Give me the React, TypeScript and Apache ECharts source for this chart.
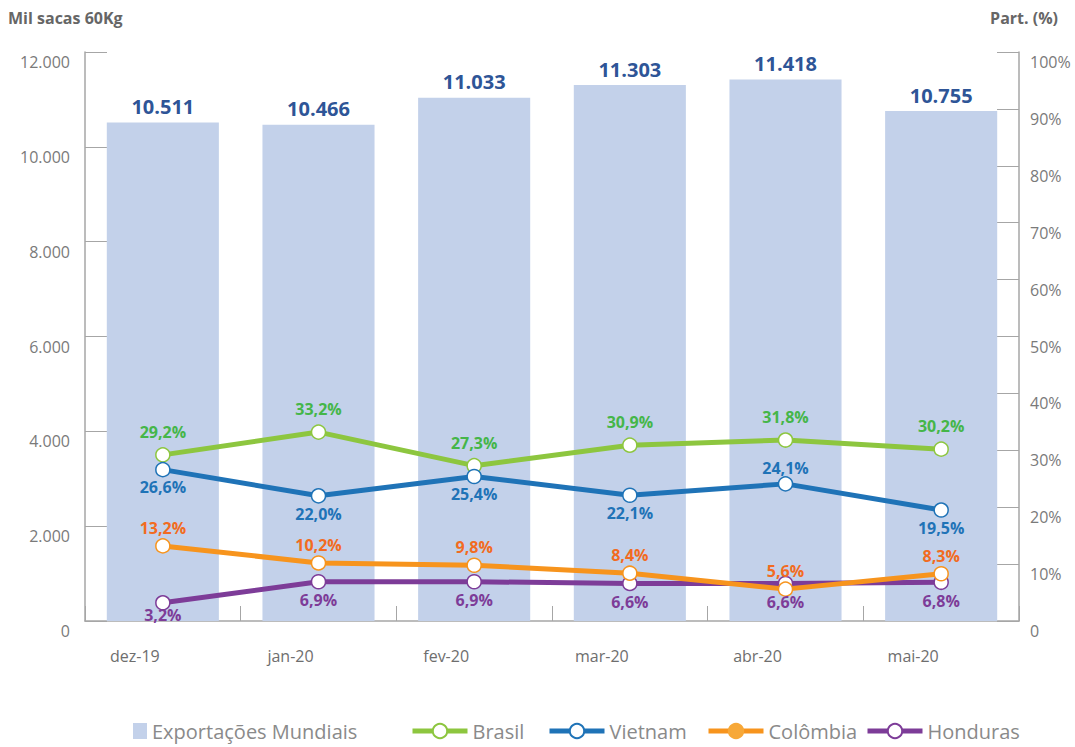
import React, { useEffect, useRef } from "react";
import * as echarts from "echarts";

const categories = ["dez-19", "jan-20", "fev-20", "mar-20", "abr-20", "mai-20"];
const exportacoes = [10511, 10466, 11033, 11303, 11418, 10755];
const brasil = [29.2, 33.2, 27.3, 30.9, 31.8, 30.2];
const vietnam = [26.6, 22.0, 25.4, 22.1, 24.1, 19.5];
const colombia = [13.2, 10.2, 9.8, 8.4, 5.6, 8.3];
const honduras = [3.2, 6.9, 6.9, 6.6, 6.6, 6.8];
const vietnamLabelPos = ["bottom", "bottom", "bottom", "bottom", "top", "bottom"];

const FONT = "Open Sans";

const fmtThousands = (v: number) =>
  String(Math.round(v)).replace(/\B(?=(\d{3})+(?!\d))/g, ".");
const fmtPct = (v: number) => v.toFixed(1).replace(".", ",") + "%";

function lineSeries(name: string, data: any[], lineColor: string, labelColor: string, pos: string, dist: number) {
  return {
    name,
    type: "line",
    yAxisIndex: 1,
    data,
    symbol: "circle",
    symbolSize: 14,
    lineStyle: { color: lineColor, width: 5 },
    itemStyle: { color: "#ffffff", borderColor: lineColor, borderWidth: 1.5 },
    label: {
      show: true,
      position: pos,
      distance: dist,
      color: labelColor,
      fontFamily: FONT,
      fontWeight: "bold",
      fontSize: 16,
      formatter: (p: any) => fmtPct(p.value),
    },
    emphasis: { disabled: true },
  };
}

export default function App() {
  const ref = useRef<HTMLDivElement>(null);
  useEffect(() => {
    const chart = echarts.init(ref.current!, null, { renderer: "svg" });
    const axisGrey = "#a6a6a6";
    const legendTop = 716;
    const legendText = { color: "#8a8a8a", fontSize: 20, fontFamily: FONT };
    const lineLegend = (name: string, left: number, extra: any = {}) => ({
      left: left - 5,
      top: legendTop,
      itemWidth: 55,
      itemHeight: 18,
      textStyle: legendText,
      lineStyle: { width: 5 },
      data: [{ name, ...extra }],
      selectedMode: false,
    });
    chart.setOption({
      animation: false,
      textStyle: { fontFamily: FONT },
      grid: { left: 85, right: 56, top: 52, bottom: 126 },
      graphic: [
        {
          type: "text",
          left: 8,
          top: 10,
          style: { text: "Mil sacas 60Kg", fontFamily: FONT, fontWeight: "bold", fontSize: 16, fill: "#666666" },
        },
        {
          type: "text",
          right: 17,
          top: 10,
          style: { text: "Part. (%)", fontFamily: FONT, fontWeight: "bold", fontSize: 16, fill: "#666666" },
        },
      ],
      legend: [
        {
          left: 128,
          top: legendTop,
          itemWidth: 14,
          itemHeight: 16,
          textStyle: legendText,
          data: [{ name: "Exportações Mundiais", icon: "rect" }],
          selectedMode: false,
        },
        lineLegend("Brasil", 410),
        lineLegend("Vietnam", 547),
        lineLegend("Colômbia", 706, { itemStyle: { color: "#f7a838", borderColor: "#f7a838" } }),
        lineLegend("Honduras", 865),
      ],
      xAxis: {
        type: "category",
        data: categories,
        axisLine: { lineStyle: { color: axisGrey, width: 1.5 } },
        axisTick: { show: true, inside: true, length: 15, lineStyle: { color: axisGrey } },
        axisLabel: {
          color: "#6e6e6e",
          fontSize: 16,
          fontFamily: FONT,
          margin: 27,
          padding: [0, 56, 0, 0],
        },
      },
      yAxis: [
        {
          type: "value",
          min: 0,
          max: 12000,
          interval: 2000,
          axisLine: { show: true, lineStyle: { color: axisGrey, width: 1.5 } },
          axisTick: { show: true, inside: true, length: 22, lineStyle: { color: axisGrey } },
          splitLine: { show: false },
          axisLabel: {
            color: "#7a7a7a",
            fontSize: 16,
            fontFamily: FONT,
            margin: 15,
            verticalAlign: "top",
            lineHeight: 20,
            formatter: (v: number) => fmtThousands(v),
          },
        },
        {
          type: "value",
          min: 0,
          max: 100,
          interval: 10,
          position: "right",
          axisLine: { show: true, lineStyle: { color: axisGrey, width: 1.5 } },
          axisTick: { show: true, inside: true, length: 22, lineStyle: { color: axisGrey } },
          splitLine: { show: false },
          axisLabel: {
            color: "#7a7a7a",
            fontSize: 16,
            fontFamily: FONT,
            margin: 11,
            verticalAlign: "top",
            lineHeight: 20,
            formatter: (v: number) => (v === 0 ? "0" : v + "%"),
          },
        },
      ],
      series: [
        {
          name: "Exportações Mundiais",
          type: "bar",
          data: exportacoes,
          barWidth: "72%",
          itemStyle: { color: "#c3d1ea" },
          label: {
            show: true,
            position: "top",
            distance: 6,
            color: "#2e5597",
            fontFamily: FONT,
            fontWeight: "bold",
            fontSize: 20,
            formatter: (p: any) => fmtThousands(p.value),
          },
          emphasis: { disabled: true },
        },
        lineSeries("Brasil", brasil, "#8dc63f", "#45b649", "top", 7),
        lineSeries(
          "Vietnam",
          vietnam.map((v, i) => ({
            value: v,
            label: { position: vietnamLabelPos[i], distance: vietnamLabelPos[i] === "top" ? 0 : 2 },
          })),
          "#1f73b7",
          "#1f73b7",
          "bottom",
          2
        ),
        lineSeries(
          "Honduras",
          honduras.map((v, i) => (i === 0 ? { value: v, label: { distance: -4 } } : v)),
          "#7d3c98",
          "#7d3c98",
          "bottom",
          3
        ),
        lineSeries("Colômbia", colombia, "#f7941d", "#f26b21", "top", 2),
      ],
    });
    return () => chart.dispose();
  }, []);
  return (
    <div
      ref={ref}
      style={{ position: "absolute", left: 0, top: 0, width: 1075, height: 747 }}
    />
  );
}
